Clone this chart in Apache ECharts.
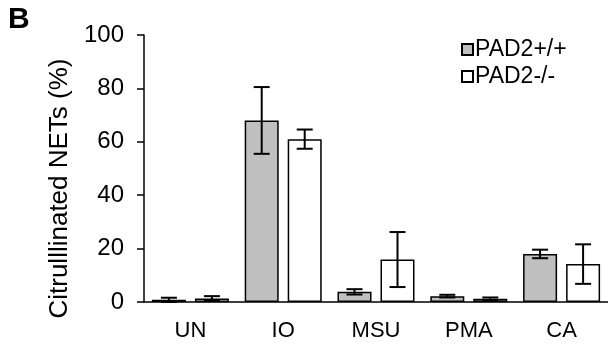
<!DOCTYPE html>
<html>
<head>
<meta charset="utf-8">
<script src="https://cdn.jsdelivr.net/npm/echarts@6/dist/echarts.min.js"></script>
<style>
  html, body { margin: 0; padding: 0; background: #fff; }
  #chart { width: 608px; height: 345px; }
</style>
</head>
<body>
<div id="chart"></div>
<script>
const categories = ["UN", "IO", "MSU", "PMA", "CA"];
const wildMean = [0.8, 68, 3.8, 2.2, 18];
const wildErr = [0.8, 12.5, 1.0, 0.5, 1.6];
const koMean = [1.3, 61, 15.9, 1.2, 14.2];
const koErr = [0.9, 3.6, 10.3, 0.5, 7.4];
const yTicks = [0, 20, 40, 60, 80, 100];

const FONT = "Liberation Sans, Arial, sans-serif";
const BAR_W = 34;
const BAR_GAP = 9;

function errorSeries(name, means, errs, side) {
  return {
    name: name + " err",
    type: "custom",
    z: 5,
    silent: true,
    data: means.map((m, i) => [i, m - errs[i], m + errs[i]]),
    renderItem(params, api) {
      const idx = api.value(0);
      const lo = api.coord([idx, api.value(1)]);
      const hi = api.coord([idx, api.value(2)]);
      const x = lo[0] + side * (BAR_W + BAR_GAP) / 2;
      const cap = 8;
      const style = { stroke: "#000", lineWidth: 2 };
      return {
        type: "group",
        children: [
          { type: "line", shape: { x1: x, y1: lo[1], x2: x, y2: hi[1] }, style },
          { type: "line", shape: { x1: x - cap, y1: lo[1], x2: x + cap, y2: lo[1] }, style },
          { type: "line", shape: { x1: x - cap, y1: hi[1], x2: x + cap, y2: hi[1] }, style },
        ],
      };
    },
  };
}

const chart = echarts.init(document.getElementById("chart"));
chart.setOption({
  animation: false,
  textStyle: { fontFamily: FONT, color: "#000" },
  graphic: [
    {
      type: "text",
      left: 8,
      top: 5,
      style: { text: "B", font: "bold 30px " + FONT, fill: "#000" },
    },
  ],
  legend: {
    orient: "vertical",
    left: 456,
    top: 33,
    itemWidth: 11,
    itemHeight: 11,
    itemGap: 4,
    icon: "rect",
    data: ["PAD2+/+", "PAD2-/-"],
    textStyle: { fontSize: 23, color: "#000", fontFamily: FONT, padding: [0, 0, 0, -3] },
  },
  grid: { left: 144, right: 0, top: 35, bottom: 43 },
  xAxis: {
    type: "category",
    data: categories,
    axisLine: { lineStyle: { color: "#000", width: 1.5 } },
    axisTick: { show: false },
    axisLabel: { color: "#000", fontSize: 22, margin: 18, fontFamily: FONT },
  },
  yAxis: {
    type: "value",
    min: 0,
    max: 100,
    interval: 20,
    name: "Citrulllinated NETs (%)",
    nameLocation: "middle",
    nameGap: 70,
    nameTextStyle: { fontSize: 26, color: "#000", fontFamily: FONT, padding: [0, 0, 0, -40] },
    axisLine: { show: true, lineStyle: { color: "#000", width: 1.5 } },
    axisTick: { show: true, inside: false, length: 7, lineStyle: { color: "#000", width: 1.5 } },
    splitLine: { show: false },
    axisLabel: {
      color: "#000",
      fontSize: 24,
      margin: 20,
      fontFamily: FONT,
      formatter: (v) => (yTicks.includes(v) ? String(v) : ""),
    },
  },
  series: [
    {
      name: "PAD2+/+",
      type: "bar",
      data: wildMean,
      barWidth: BAR_W,
      barGap: (BAR_GAP / BAR_W * 100) + "%",
      itemStyle: { color: "#c0c0c0", borderColor: "#000", borderWidth: 1.5 },
    },
    {
      name: "PAD2-/-",
      type: "bar",
      data: koMean,
      barWidth: BAR_W,
      itemStyle: { color: "#fff", borderColor: "#000", borderWidth: 1.5 },
    },
    errorSeries("PAD2+/+", wildMean, wildErr, -1),
    errorSeries("PAD2-/-", koMean, koErr, 1),
  ],
});
</script>
</body>
</html>
